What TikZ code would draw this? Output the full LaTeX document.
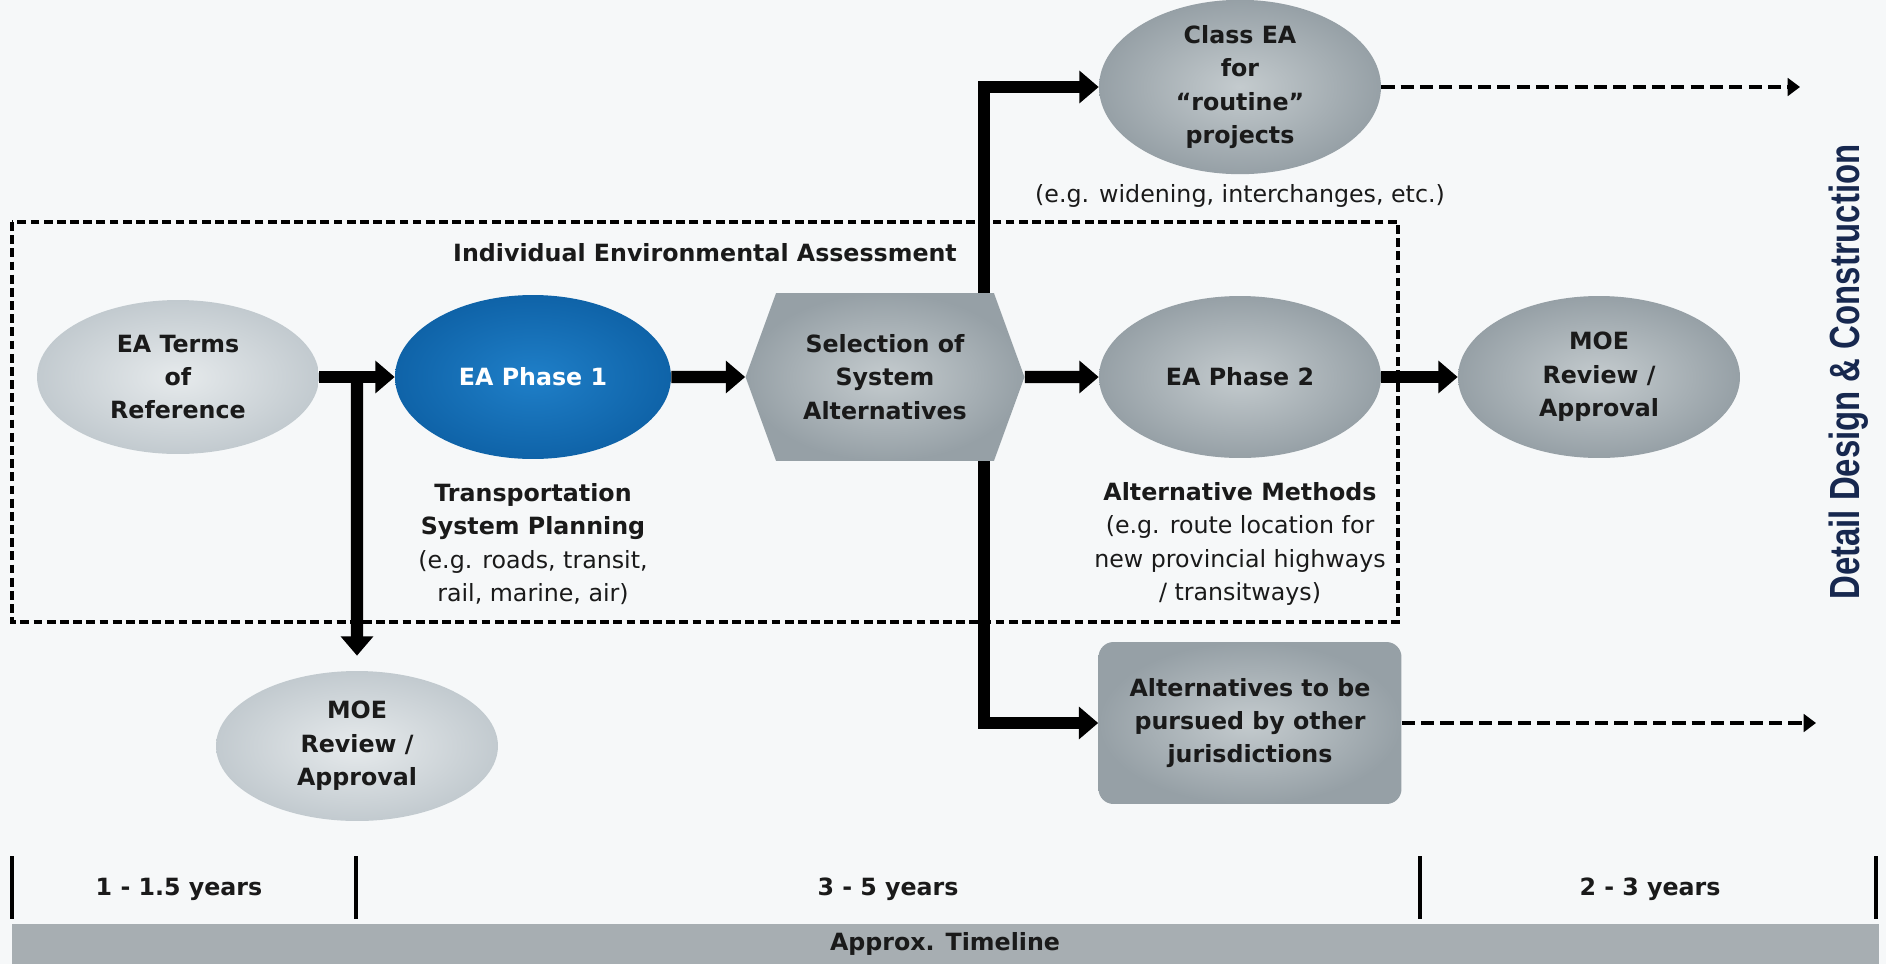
\documentclass[tikz,border=0pt]{standalone}
\usepackage{fontspec}
\setmainfont{DejaVu Sans}
\newfontfamily\sidefont{Liberation Sans}
\usetikzlibrary{positioning,calc,shapes.geometric,shapes.symbols,arrows.meta}

\definecolor{paper}{HTML}{F6F8F9}
\definecolor{inkdark}{HTML}{1A1A1A}
\definecolor{navy}{HTML}{17284F}
\definecolor{paleIn}{HTML}{E6EAEC}
\definecolor{paleOut}{HTML}{C2CACF}
\definecolor{stoneIn}{HTML}{C4CBCE}
\definecolor{stoneOut}{HTML}{96A0A6}
\definecolor{phaseIn}{HTML}{1F7FC8}
\definecolor{phaseOut}{HTML}{0F63A8}
\definecolor{bargrey}{HTML}{A7AEB2}

\tikzset{
  stage/.style={ellipse, minimum width=5.64cm, minimum height=3.24cm, inner sep=0pt,
    font=\fontsize{13.5}{19}\selectfont\bfseries},
  palestage/.style={stage, inner color=paleIn, outer color=paleOut},
  greystage/.style={stage, inner color=stoneIn, outer color=stoneOut},
  bluestage/.style={stage, inner color=phaseIn, outer color=phaseOut, text=white},
  choice/.style={signal, signal to=east and west, signal pointer angle=140,
    minimum width=5.58cm, minimum height=3.36cm, inner sep=0pt,
    inner color=stoneIn, outer color=stoneOut, font=\fontsize{13.5}{19}\selectfont\bfseries},
  sidebox/.style={rectangle, rounded corners=0.3cm, minimum width=6.06cm, minimum height=3.24cm,
    inner color=stoneIn, outer color=stoneOut, font=\fontsize{13.5}{19}\selectfont\bfseries},
  flow/.style={line width=7pt, -{Triangle[length=11pt,width=18pt]}},
  fade/.style={line width=2.6pt, dash pattern=on 7.5pt off 3.5pt, -{Triangle[length=7pt,width=10pt]}},
  frame/.style={line width=1.8pt, dash pattern=on 5pt off 2.5pt},
  tick/.style={line width=2.6pt}
}

\begin{document}
\begin{tikzpicture}[x=0.02cm, y=-0.02cm,
  every node/.style={font=\fontsize{13.5}{19}\selectfont, text=inkdark, align=center}]
\useasboundingbox (0,0) rectangle (1886,964);
\fill[paper] (0,0) rectangle (1886,964);

% individual EA frame
\draw[frame] (12,222) rectangle (1398,622);
\node (iealabel) at (705,253) {\textbf{Individual Environmental Assessment}};

% stages
\node[palestage, minimum height=3.08cm] (terms) at (178,377) {EA Terms\\of\\Reference};
\node[bluestage, minimum width=5.52cm, minimum height=3.28cm] (ph1) at (533,377) {EA Phase 1};
\node[choice] (sel) at (885,377) {Selection of\\System\\Alternatives};
\node[greystage] (ph2) at (1240,377) {EA Phase 2};
\node[greystage] (moe2) at (1599,377) {MOE\\Review /\\Approval};
\node[greystage, minimum height=3.36cm] (classea) at (1240,87) {Class EA\\for\\“routine”\\projects};
\node[sidebox] (others) at (1250,723) {Alternatives to be\\pursued by other\\jurisdictions};
\node[palestage, minimum height=3.0cm] (moe1) at (357,746) {MOE\\Review /\\Approval};

% notes
\node (classnote) at (1240,196) {(e.g. widening, interchanges, etc.)};
\node (tspnote) at (533,544) {\textbf{Transportation}\\\textbf{System Planning}\\(e.g. roads, transit,\\rail, marine, air)};
\node (amnote) at (1240,544) {\textbf{Alternative Methods}\\(e.g. route location for\\new provincial highways\\/ transitways)};

% connectors
\coordinate (split) at ($(terms.east)!0.5!(ph1.west)$);
\coordinate (up) at (984,87);
\coordinate (down) at (984,723);
\coordinate (classend) at (1800,87);
\coordinate (othersend) at (1816,723);
\draw[flow] (terms) -- (ph1);
\draw[flow, shorten >=0.3cm] (split) -- (moe1);
\draw[flow] (ph1) -- (sel);
\draw[flow] (sel) -- (ph2);
\draw[flow] (ph2) -- (moe2);
\draw[flow] (up |- sel.north) -- (up) -- (classea);
\draw[flow] (down |- sel.south) -- (down) -- (others);
\draw[fade] (classea) -- (classend);
\draw[fade] (others) -- (othersend);

% side label
\node[rotate=90, text=navy] (detail) at (1849,372)
  {\scalebox{0.78}[1]{\sidefont\bfseries\fontsize{24}{24}\selectfont Detail Design \& Construction}};

% timeline
\foreach \x in {12,356,1420,1876}
  \draw[tick] (\x,856) -- (\x,919);
\node (span1) at (179,889) {\textbf{1 - 1.5 years}};
\node (span2) at (888,889) {\textbf{3 - 5 years}};
\node (span3) at (1650,889) {\textbf{2 - 3 years}};
\fill[bargrey] (12,924) rectangle (1879,964);
\node (timeline) at (945,944) {\textbf{Approx. Timeline}};
\end{tikzpicture}
\end{document}
